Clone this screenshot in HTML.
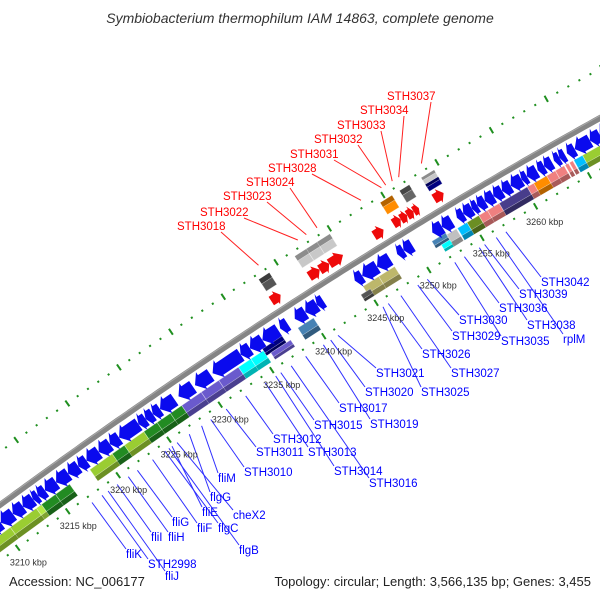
<!DOCTYPE html>
<html><head><meta charset="utf-8"><style>
html,body{margin:0;padding:0;background:#fff;}
svg{display:block;font-family:"Liberation Sans",sans-serif;}
</style></head><body>
<svg id="map" width="600" height="600" viewBox="0 0 600 600" xmlns="http://www.w3.org/2000/svg">
<rect width="600" height="600" fill="#fff"/>
<text x="300" y="23" text-anchor="middle" font-size="14" font-style="italic" fill="#333">Symbiobacterium thermophilum IAM 14863, complete genome</text>
<g id="ticks"></g><g id="backbone"></g><g id="genes"></g><g id="leaders"></g><g id="labels"></g>
<text x="9" y="586" font-size="13" fill="#222">Accession: NC_006177</text>
<text x="591" y="586" text-anchor="end" font-size="13" fill="#222">Topology: circular; Length: 3,566,135 bp; Genes: 3,455</text>
</svg>
<script>
// ---- data (kbp) ----
const kbpTicks = [3210,3215,3220,3225,3230,3235,3240,3245,3250,3255,3260];
const blueGenes = [[3207.5,3209.1],[3209.1,3210.1],[3210.1,3211.3],[3211.3,3212.3],[3212.3,3213.3],[3213.3,3213.8],[3213.8,3214.5],[3214.5,3215.6],[3215.6,3216.8],[3216.8,3217.8],[3217.8,3218.6],[3218.6,3219.8],[3219.8,3220.9],[3220.9,3221.8],[3221.8,3223.7],[3223.7,3224.4],[3224.4,3225.1],[3225.1,3225.8],[3225.8,3227.2],
[3227.6,3229.0],[3229.2,3230.7],[3230.9,3233.6],[3233.6,3234.5],[3234.5,3235.7],[3235.7,3237.2],[3237.4,3238.1],
[3238.8,3239.8],[3239.8,3240.9],[3240.9,3241.5],
[3244.5,3245.2],[3245.2,3246.6],[3246.6,3247.8],[3248.5,3249.1],[3249.1,3249.9],
[3251.8,3252.7],[3252.7,3253.6],[3254.1,3254.7],[3254.7,3255.5],[3255.5,3256.0],[3256.0,3256.7],[3256.7,3257.5],[3257.5,3258.3],[3258.3,3259.1],[3259.1,3260.1],[3260.1,3260.6],[3260.6,3261.5],[3261.6,3262.2],[3262.2,3262.9],[3263.1,3263.6],[3263.6,3264.1],[3264.3,3265.0],[3265.0,3266.4],[3266.4,3267.3],[3267.3,3268.2]];
const redGenes = [[3238.0,3238.9],[3241.6,3242.6],[3242.6,3243.5],[3243.5,3244.8],[3247.7,3248.6],[3249.5,3250.2],[3250.2,3250.8],[3250.8,3251.4],[3251.4,3251.9],[3253.3,3254.2]];
const upperBoxes = [[3238.1,3239.1,'#555555','full'],[3241.5,3242.6,'#c8c8c8','full'],[3242.6,3243.6,'#c8c8c8','full'],[3243.6,3244.8,'#c8c8c8','full'],[3249.5,3250.6,'#ff8c00','full'],[3251.3,3252.2,'#666666','full'],[3253.3,3254.5,'#c8c8c8','outer'],[3253.3,3254.5,'#000080','inner']];
const lowerBoxes = [[3206,3210.5,'#9acd32','full'],[3210.5,3213.1,'#9acd32','full'],[3213.1,3213.6,'#b5ea45','full'],[3213.6,3215.0,'#228b22','full'],[3215.0,3216.4,'#228b22','full'],
[3218.4,3220.6,'#9acd32','full'],[3220.6,3221.8,'#228b22','full'],[3221.8,3223.7,'#9acd32','full'],[3223.7,3225.0,'#228b22','full'],[3225.0,3226.3,'#228b22','full'],[3226.3,3227.4,'#228b22','full'],
[3227.4,3229.3,'#6a5acd','full'],[3229.3,3231.0,'#6a5acd','full'],[3231.0,3232.9,'#6a5acd','full'],[3232.9,3234.1,'#00ffff','full'],[3234.1,3235.3,'#00ffff','full'],
[3235.3,3237.2,'#000080','inner'],[3235.7,3237.6,'#6a5acd','outer'],[3238.6,3240.1,'#4682b4','full'],
[3244.8,3246.3,'#bdb76b','full'],[3246.3,3247.8,'#bdb76b','full'],[3244.3,3245.2,'#555555','outer'],
[3251.4,3252.7,'#4682b4','inner'],[3251.9,3253.2,'#00ffff','outer'],[3252.7,3253.6,'#c0c0c0','full'],
[3253.7,3254.6,'#00bfff','full'],[3254.6,3255.7,'#6b8e23','full'],[3255.7,3256.5,'#f08080','full'],[3256.5,3257.6,'#f08080','full'],[3257.6,3260.2,'#483d8b','full'],[3260.2,3260.8,'#f08080','full'],[3260.8,3262.0,'#ff8c00','full'],[3262.0,3262.8,'#f08080','full'],[3262.8,3263.6,'#f08080','full'],[3263.7,3264.0,'#f08080','full'],[3264.1,3264.4,'#f08080','full'],[3264.5,3265.3,'#00bfff','full'],[3265.3,3268.5,'#9acd32','full']];
const blueNames = ['fliK','STH2998','fliJ','fliI','fliH','fliG','fliF','flgC','fliE','cheX2','flgB','flgG','fliM','STH3010','STH3011','STH3012','STH3013','STH3014','STH3015','STH3016','STH3017','STH3019','STH3020','STH3021','STH3025','STH3026','STH3027','STH3029','STH3030','STH3035','STH3036','STH3038','STH3039','STH3042','rplM'];
const blueKbp = [3217.0,3218.0,3218.6,3219.5,3220.6,3221.5,3223.0,3224.2,3224.9,3225.4,3224.6,3226.6,3227.8,3228.7,3230.2,3232.1,3234.0,3235.0,3235.5,3236.5,3237.9,3239.6,3240.3,3241.0,3245.3,3245.8,3247.0,3248.6,3249.5,3252.1,3253.0,3254.4,3254.9,3256.9,3256.0];
const blueLabelX = [126,148,165,151,168,172,197,218,202,233,239,210,218,244,256,273,308,334,314,369,339,370,365,376,421,422,451,452,459,501,499,527,519,541,563];
const blueLabelY = [558,568,580,541,541,526,532,532,516,519,554,501,482,476,456,443,456,475,429,487,412,428,396,377,396,358,377,340,324,345,312,329,298,286,343];
const redNames = ['STH3018','STH3022','STH3023','STH3024','STH3028','STH3031','STH3032','STH3033','STH3034','STH3037'];
const redKbp = [3238.7,3242.4,3243.2,3244.2,3248.3,3250.2,3250.6,3251.2,3251.8,3253.9];
const redLabelX = [177,200,223,246,268,290,314,337,360,387];
const redLabelY = [230,216,200,186,172,158,143,129,114,100];

// ---- axis functions ----
function X0(k){const d=k-3210;return -9+10.04*d+0.008*d*d;}
function P(k,v){const x=X0(k);const y=505-0.735*x+0.00015*x*x;const m=-0.735+0.0003*x;const n=Math.hypot(1,m);return [x+(-m/n)*v,y+(1/n)*v];}
const NS='http://www.w3.org/2000/svg';
function mk(tag,attrs,parent){const e=document.createElementNS(NS,tag);for(const a in attrs)e.setAttribute(a,attrs[a]);parent.appendChild(e);return e;}
function pts(arr){return arr.map(p=>p[0].toFixed(1)+','+p[1].toFixed(1)).join(' ');}
function shade(hex,f){const n=parseInt(hex.slice(1),16);let r=(n>>16)&255,g=(n>>8)&255,b=n&255;r=Math.round(r*f);g=Math.round(g*f);b=Math.round(b*f);return 'rgb('+r+','+g+','+b+')';}

const gT=document.getElementById('ticks'),gB=document.getElementById('backbone'),gG=document.getElementById('genes'),gL=document.getElementById('leaders'),gX=document.getElementById('labels');

for(let k=3204;k<=3272;k++){
  for(const v of [45,-43]){
    const big=(k%5===0);
    const a=P(k,v-(big?3.5:1)),b=P(k,v+(big?3.5:1));
    const t=mk('line',{x1:a[0],y1:a[1],x2:b[0],y2:b[1],stroke:'#1f8f1f','stroke-width':2},gT);
    
    
  }
}
kbpTicks.forEach(k=>{
  const p=P(k,63);
  const t=mk('text',{x:p[0].toFixed(1),y:(p[1]+3).toFixed(1),'text-anchor':'middle','font-size':9,fill:'#333'},gX);
  t.textContent=k+' kbp';
  
  
});
{const arr=[];for(let k=3200;k<=3275;k+=0.5)arr.push(P(k,0));
 const l=mk('polyline',{points:pts(arr),fill:'none',stroke:'#858585','stroke-width':6},gB);
 
 
 const arr2=[];for(let k=3200;k<=3275;k+=0.5)arr2.push(P(k,-2));
 mk('polyline',{points:pts(arr2),fill:'none',stroke:'#a8a8a8','stroke-width':1},gB);}

function rows(r,up){const s=up?-1:1;if(r==='inner')return [22*s,30*s];if(r==='outer')return [30*s,38*s];return [24*s,38*s];}
function box(g,up,name){
  const [k1,k2,c,r]=g;const [va,vb]=rows(r,up);
  const vmid=va+(vb-va)*0.62;
  const f=mk('polygon',{points:pts([P(k1,va),P(k2,va),P(k2,vmid),P(k1,vmid)]),fill:c,stroke:'rgba(255,255,255,0.45)','stroke-width':0.7},gG);
  
  
  mk('polygon',{points:pts([P(k1,vmid),P(k2,vmid),P(k2,vb),P(k1,vb)]),fill:shade(c,0.7),stroke:'rgba(255,255,255,0.3)','stroke-width':0.5},gG);
}
lowerBoxes.forEach(g=>box(g,false,'lower-gene-box'));
upperBoxes.forEach(g=>box(g,true,'upper-gene-box'));

function arrow(k1,k2,dir,a,b,ha,hb,col,name){
  const h=Math.min(0.5*(k2-k1),0.65);const mid=(ha+hb)/2;let p;
  if(dir<0){p=[P(k1,mid),P(k1+h,ha),P(k1+h,a),P(k2,a),P(k2,b),P(k1+h,b),P(k1+h,hb)];}
  else{p=[P(k2,mid),P(k2-h,hb),P(k2-h,b),P(k1,b),P(k1,a),P(k2-h,a),P(k2-h,ha)];}
  const e=mk('polygon',{points:pts(p),fill:col},gG);
  
  
}
blueGenes.forEach(g=>arrow(g[0],g[1],-1,8,22,4.5,25,'#0a0aee','blue-gene-arrow'));
redGenes.forEach(g=>arrow(g[0],g[1],1,-8,-18,-5.5,-21,'#ee0a0a','red-gene-arrow'));

blueNames.forEach((n,i)=>{
  const s=P(blueKbp[i],52);
  const l=mk('line',{x1:s[0].toFixed(1),y1:s[1].toFixed(1),x2:blueLabelX[i],y2:blueLabelY[i]-9,stroke:'#3030ff','stroke-width':1},gL);
  
  
  const t=mk('text',{x:blueLabelX[i],y:blueLabelY[i],'font-size':11.5,fill:'#0000ff'},gX);
  t.textContent=n;
  
  
});
redNames.forEach((n,i)=>{
  const s=P(redKbp[i],-50);
  const l=mk('line',{x1:redLabelX[i]+44,y1:redLabelY[i]+2,x2:s[0].toFixed(1),y2:s[1].toFixed(1),stroke:'#ff2020','stroke-width':1},gL);
  
  
  const t=mk('text',{x:redLabelX[i],y:redLabelY[i],'font-size':11.5,fill:'#ff0000'},gX);
  t.textContent=n;
  
  
});
</script>
</body></html>
